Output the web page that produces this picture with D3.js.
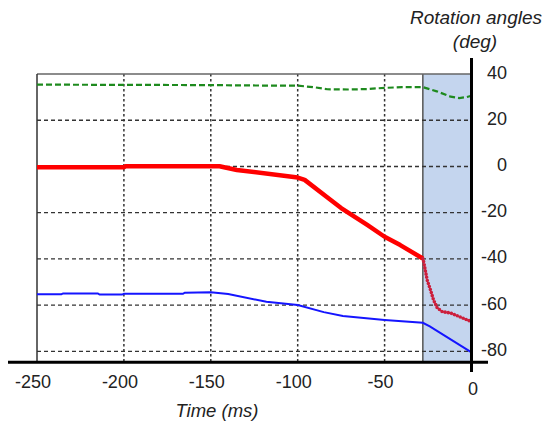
<!DOCTYPE html>
<html><head><meta charset="utf-8">
<script src="https://cdn.jsdelivr.net/npm/d3@7"></script>
<style>body{margin:0;background:#fff}svg{display:block}text{font-family:"Liberation Sans",Arial,sans-serif;fill:#222}</style>
</head><body><div id="chart"></div>
<script>
const xTicks = [-250, -200, -150, -100, -50, 0];
const yTicks = [40, 20, 0, -20, -40, -60, -80];
const xLabel = "Time (ms)";
const yLabel1 = "Rotation angles";
const yLabel2 = "(deg)";
const shadeRange = [-28, 0];
const greenT = [-250, -200, -150, -120, -100, -90, -83, -70, -60, -50, -40, -28, -20, -12, -7, -3, 0];
const greenV = [35.4, 35.3, 35.2, 35.0, 35.0, 34.2, 33.4, 33.3, 33.5, 34.0, 34.3, 34.3, 32.5, 30.2, 29.6, 30.0, 30.6];
const redT = [-250, -200, -199, -145, -135, -100, -96, -81, -75, -60, -50, -41, -28];
const redV = [-0.3, -0.3, 0.1, 0.1, -1.5, -4.8, -5.8, -14.5, -18, -25.3, -30.4, -34, -39.8];
const dotT = [-28, -27.5, -25.5, -23.6, -21.8, -19.7, -16.8, -12, -5.3, 0];
const dotV = [-39.8, -41.3, -49.1, -53.4, -57.8, -61.2, -62.8, -63.4, -65.5, -67.1];
const blueT = [-250, -236, -235, -215, -214, -201, -200, -166, -165, -150, -140, -118, -100, -85, -74, -50, -28, -24, 0];
const blueV = [-55.3, -55.3, -54.9, -54.9, -55.4, -55.4, -55.1, -55.1, -54.6, -54.4, -55.2, -58.5, -59.9, -63, -64.7, -66.4, -67.6, -69.2, -80.4];

const W = 543, H = 432;
const svg = d3.select("#chart").append("svg").attr("width", W).attr("height", H);
const x = d3.scaleLinear().domain([-250, 0]).range([37, 471.5]);
const y = d3.scaleLinear().domain([-84.7, 40]).range([362.3, 74]);

// shaded region
svg.append("rect").attr("x", x(shadeRange[0])).attr("y", y(40))
  .attr("width", x(shadeRange[1]) - x(shadeRange[0])).attr("height", y(-84.7) - y(40))
  .attr("fill", "#c4d5ee");
svg.append("line").attr("x1", x(shadeRange[0])).attr("x2", x(shadeRange[0]))
  .attr("y1", y(40)).attr("y2", y(-84.7)).attr("stroke", "#555").attr("stroke-width", 1.5);

// grid
svg.append("g").selectAll("line").data(yTicks.filter(d => d < 40)).join("line")
  .attr("x1", x(-250)).attr("x2", x(0)).attr("y1", d => y(d)).attr("y2", d => y(d))
  .attr("stroke", "#333").attr("stroke-width", 1.3).attr("stroke-dasharray", "4 3");
svg.append("g").selectAll("line").data(xTicks.filter(d => d > -250 && d < 0)).join("line")
  .attr("x1", d => x(d)).attr("x2", d => x(d)).attr("y1", y(40)).attr("y2", y(-84.7))
  .attr("stroke", "#333").attr("stroke-width", 1.5).attr("stroke-dasharray", "2.5 2.5");

// frame top & left
svg.append("line").attr("x1", x(-250)).attr("x2", x(0)).attr("y1", y(40)).attr("y2", y(40))
  .attr("stroke", "#666").attr("stroke-width", 1.5);
svg.append("line").attr("x1", x(-250)).attr("x2", x(-250)).attr("y1", y(40)).attr("y2", y(-84.7))
  .attr("stroke", "#333").attr("stroke-width", 1.5);

const line = d3.line().x(d => x(d[0])).y(d => y(d[1]));
const zip = (a, b) => a.map((t, i) => [t, b[i]]);

svg.append("path").attr("d", line(zip(greenT, greenV))).attr("fill", "none")
  .attr("stroke", "#1e8a1e").attr("stroke-width", 2.2).attr("stroke-dasharray", "6 3");
svg.append("path").attr("d", line(zip(blueT, blueV))).attr("fill", "none")
  .attr("stroke", "#1515ff").attr("stroke-width", 2);
svg.append("path").attr("d", line(zip(redT, redV))).attr("fill", "none")
  .attr("stroke", "#ff0000").attr("stroke-width", 4.5).attr("stroke-linejoin", "round");
svg.append("path").attr("d", line(zip(dotT, dotV))).attr("fill", "none")
  .attr("stroke", "#cc1f3c").attr("stroke-width", 3.6).attr("stroke-linecap", "round")
  .attr("stroke-dasharray", "0 3.2");

// axes (thick black)
svg.append("line").attr("x1", 8).attr("x2", 488).attr("y1", y(-84.7)).attr("y2", y(-84.7))
  .attr("stroke", "#000").attr("stroke-width", 3);
svg.append("line").attr("x1", x(0)).attr("x2", x(0)).attr("y1", 58).attr("y2", 372)
  .attr("stroke", "#000").attr("stroke-width", 3);

// x tick labels
svg.append("g").selectAll("text").data(xTicks).join("text")
  .attr("x", d => d === 0 ? x(d) + 1.5 : x(d) - 4)
  .attr("y", d => d === 0 ? 395 : 388)
  .attr("text-anchor", "middle").attr("font-size", 18).text(d => d);
// y tick labels
svg.append("g").selectAll("text").data(yTicks).join("text")
  .attr("x", 507).attr("y", d => y(d) + 4.5)
  .attr("text-anchor", "end").attr("font-size", 18).text(d => d);

svg.append("text").attr("x", 217).attr("y", 417).attr("text-anchor", "middle")
  .attr("font-size", 18.5).attr("font-style", "italic").text(xLabel);
svg.append("text").attr("x", 476).attr("y", 24).attr("text-anchor", "middle")
  .attr("font-size", 19).attr("font-style", "italic").text(yLabel1);
svg.append("text").attr("x", 475).attr("y", 48).attr("text-anchor", "middle")
  .attr("font-size", 19).attr("font-style", "italic").text(yLabel2);
</script></body></html>
